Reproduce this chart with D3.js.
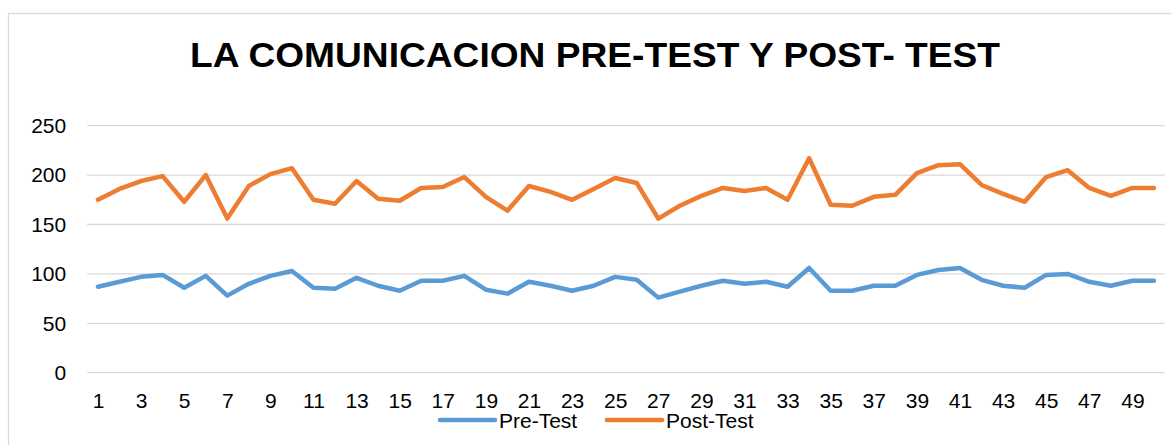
<!DOCTYPE html>
<html>
<head>
<meta charset="utf-8">
<script src="https://cdn.jsdelivr.net/npm/d3@7"></script>
<style>
  body { margin: 0; background: #fff; }
  svg { display: block; font-family: "Liberation Sans", Arial, sans-serif; }
</style>
</head>
<body>
<div id="chart"></div>
<script>
//categories (students 1..50)
let categories = [1, 2, 3, 4, 5, 6, 7, 8, 9, 10, 11, 12, 13, 14, 15, 16, 17, 18, 19, 20,
    21, 22, 23, 24, 25, 26, 27, 28, 29, 30, 31, 32, 33, 34, 35, 36, 37, 38, 39, 40,
    41, 42, 43, 44, 45, 46, 47, 48, 49, 50];

//series values
let preTest = [87, 92, 97, 99, 86, 98, 78, 90, 98, 103, 86, 85, 96, 88, 83, 93, 93, 98, 84, 80,
    92, 88, 83, 88, 97, 94, 76, 82, 88, 93, 90, 92, 87, 106, 83, 83, 88, 88, 99, 104,
    106, 94, 88, 86, 99, 100, 92, 88, 93, 93];
let postTest = [175, 186, 194, 199, 173, 200, 156, 189, 201, 207, 175, 171, 194, 176, 174, 187, 188, 198, 178, 164,
    189, 183, 175, 186, 197, 192, 156, 169, 179, 187, 184, 187, 175, 217, 170, 169, 178, 180, 202, 210,
    211, 190, 181, 173, 198, 205, 187, 179, 187, 187];

//tick labels
let yTicks = [0, 50, 100, 150, 200, 250];
let xTicks = [1, 3, 5, 7, 9, 11, 13, 15, 17, 19, 21, 23, 25, 27, 29, 31, 33, 35, 37, 39, 41, 43, 45, 47, 49];

let seriesNames = ["Pre-Test", "Post-Test"];
let colors = ["#5b9bd5", "#ed7d31"];

let width = 1171, height = 445;
let plot = {left: 87.2, right: 1164.7, top: 125.7, bottom: 372.7};

let svg = d3.select("#chart")
    .append("svg")
    .attr("width", width)
    .attr("height", height);

//outer chart border
svg.append("rect")
    .attr("x", 8.5)
    .attr("y", 13.5)
    .attr("width", 1170)
    .attr("height", 460)
    .attr("fill", "none")
    .attr("stroke", "#d9d9d9")
    .attr("stroke-width", 1.3);

//scales
let x = d3.scalePoint()
    .domain(categories)
    .range([plot.left, plot.right])
    .padding(0.5);

let y = d3.scaleLinear()
    .domain([0, 250])
    .range([plot.bottom, plot.top]);

//gridlines
svg.append("g")
    .selectAll("line")
    .data(yTicks)
    .enter()
    .append("line")
    .attr("x1", plot.left)
    .attr("x2", plot.right)
    .attr("y1", d => y(d))
    .attr("y2", d => y(d))
    .attr("stroke", "#d9d9d9")
    .attr("stroke-width", 1.3);

//y axis labels
let yAxis = svg.append("g")
    .attr("transform", `translate(${plot.left - 21},0)`)
    .call(d3.axisLeft(y).tickValues(yTicks).tickSize(0).tickPadding(0));
yAxis.select(".domain").remove();
yAxis.selectAll("text")
    .style("font-size", "21px")
    .style("fill", "#000")
    .style("font-family", "Liberation Sans, Arial, sans-serif");

//x axis labels
let xAxis = svg.append("g")
    .attr("transform", `translate(0,${plot.bottom})`)
    .call(d3.axisBottom(x).tickValues(xTicks).tickSize(0).tickPadding(20));
xAxis.select(".domain").remove();
xAxis.selectAll("text")
    .style("font-size", "21px")
    .style("fill", "#000")
    .style("font-family", "Liberation Sans, Arial, sans-serif");

//lines
let line = d3.line()
    .x((d, i) => x(categories[i]))
    .y(d => y(d));

[preTest, postTest].forEach(function(values, k) {
    svg.append("path")
        .datum(values)
        .attr("d", line)
        .attr("fill", "none")
        .attr("stroke", colors[k])
        .attr("stroke-width", 4.5)
        .attr("stroke-linejoin", "round")
        .attr("stroke-linecap", "round");
});

//title
svg.append("text")
    .attr("x", 595)
    .attr("y", 67)
    .attr("textLength", 810)
    .attr("lengthAdjust", "spacingAndGlyphs")
    .style("text-anchor", "middle")
    .style("font-size", "34.5px")
    .style("font-weight", "bold")
    .text("LA COMUNICACION PRE-TEST Y POST- TEST");

//legend
let legendX = [440, 607];
let legend = svg.append("g")
    .selectAll("g")
    .data(seriesNames)
    .enter()
    .append("g")
    .attr("transform", (d, i) => `translate(${legendX[i]},420)`);

legend.append("line")
    .attr("x1", 0)
    .attr("x2", 55)
    .attr("stroke", (d, i) => colors[i])
    .attr("stroke-width", 4.5)
    .attr("stroke-linecap", "round");

legend.append("text")
    .attr("x", 59)
    .attr("y", 7.5)
    .style("font-size", "21px")
    .text(d => d);
</script>
</body>
</html>
